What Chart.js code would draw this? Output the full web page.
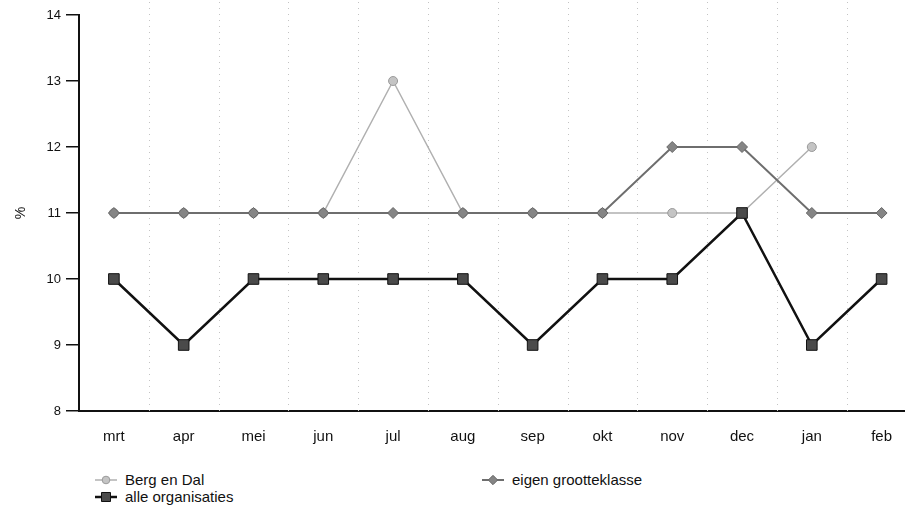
<!DOCTYPE html>
<html lang="nl">
<head>
    <meta charset="UTF-8">
    <title>Maandcijfers</title>
    <style>
        body {
            margin: 0;
            padding: 0;
            background: #fff;
            font-family: Arial, "Liberation Sans", sans-serif;
            width: 905px;
            height: 512px;
            overflow: hidden;
            position: relative;
        }
        #chart {
            position: absolute;
            left: 0;
            top: 0;
        }
        .legend-item {
            position: absolute;
            font-size: 15px;
            line-height: 17px;
            color: #111;
            display: flex;
            align-items: center;
            white-space: nowrap;
        }
        .legend-item canvas {
            margin-right: 7px;
        }
    </style>
</head>
<body>
    <canvas id="chart" width="925" height="450"></canvas>
    <div class="legend-item" style="left:94px; top:471px;"><canvas id="lg0" width="24" height="14"></canvas>Berg en Dal</div>
    <div class="legend-item" style="left:481px; top:471px;"><canvas id="lg1" width="24" height="14"></canvas>eigen grootteklasse</div>
    <div class="legend-item" style="left:94px; top:488px;"><canvas id="lg2" width="24" height="14"></canvas>alle organisaties</div>

    <script src="https://cdn.jsdelivr.net/npm/chart.js"></script>
    <script>
        const months = ['mrt', 'apr', 'mei', 'jun', 'jul', 'aug', 'sep', 'okt', 'nov', 'dec', 'jan', 'feb'];
        const bergEnDal = [11, 11, 11, 11, 13, 11, 11, 11, 11, 11, 12, null];
        const eigenGrootteklasse = [11, 11, 11, 11, 11, 11, 11, 11, 12, 12, 11, 11];
        const alleOrganisaties = [10, 9, 10, 10, 10, 10, 9, 10, 10, 11, 9, 10];
        const yTicks = [8, 9, 10, 11, 12, 13, 14];

        const styles = [
            { label: 'Berg en Dal', line: '#b0b0b0', fill: '#c4c4c4', border: '#9a9a9a', shape: 'circle', r: 4.5, w: 1.5 },
            { label: 'eigen grootteklasse', line: '#6e6e6e', fill: '#858585', border: '#666', shape: 'rectRot', r: 5.5, w: 2 },
            { label: 'alle organisaties', line: '#111', fill: '#4a4a4a', border: '#111', shape: 'rect', r: 7.5, w: 2.5 }
        ];
        const series = [bergEnDal, eigenGrootteklasse, alleOrganisaties];
        const order = [2, 1, 0];
        const font = 'Arial, "Liberation Sans", sans-serif';

        const ctx = document.getElementById('chart').getContext('2d');
        new Chart(ctx, {
            type: 'line',
            data: {
                labels: months,
                datasets: series.map((data, i) => ({
                    label: styles[i].label,
                    data: data,
                    order: order[i],
                    borderColor: styles[i].line,
                    borderWidth: styles[i].w,
                    pointStyle: styles[i].shape,
                    pointRadius: styles[i].r,
                    pointBackgroundColor: styles[i].fill,
                    pointBorderColor: styles[i].border,
                    pointBorderWidth: 1,
                    tension: 0
                }))
            },
            options: {
                responsive: false,
                animation: false,
                layout: { padding: { top: 15, left: 0, right: 0, bottom: 0 } },
                plugins: {
                    legend: { display: false },
                    tooltip: { enabled: false }
                },
                scales: {
                    x: {
                        offset: true,
                        grid: { display: false, drawTicks: false },
                        border: { color: '#111', width: 2 },
                        ticks: {
                            color: '#111',
                            padding: 17,
                            font: { family: font, size: 15 }
                        },
                        afterFit: scale => { scale.height = 39; }
                    },
                    y: {
                        min: 8,
                        max: 14,
                        afterBuildTicks: scale => { scale.ticks = yTicks.map(v => ({ value: v })); },
                        grid: {
                            drawOnChartArea: false,
                            color: '#111',
                            lineWidth: 1.5,
                            tickLength: 13
                        },
                        border: { color: '#111', width: 2 },
                        ticks: {
                            color: '#111',
                            padding: 5,
                            font: { family: font, size: 13 }
                        },
                        title: {
                            display: true,
                            text: '%',
                            color: '#111',
                            padding: { top: 13, bottom: 0 },
                            font: { family: font, size: 14 }
                        },
                        afterFit: scale => { scale.width = 79; }
                    }
                }
            },
            plugins: [{
                id: 'dottedGrid',
                beforeDatasetsDraw(chart) {
                    // faint dotted separators between months
                    const c = chart.ctx;
                    const x = chart.scales.x;
                    const area = chart.chartArea;
                    c.save();
                    c.strokeStyle = '#c4c4c4';
                    c.lineWidth = 1;
                    c.setLineDash([1, 5]);
                    for (let i = 1; i < months.length; i++) {
                        const px = Math.round((x.getPixelForTick(i - 1) + x.getPixelForTick(i)) / 2) + 0.5;
                        c.beginPath();
                        c.moveTo(px, 2);
                        c.lineTo(px, area.bottom);
                        c.stroke();
                    }
                    c.restore();
                }
            }]
        });

        // legend markers
        styles.forEach((s, i) => {
            const c = document.getElementById('lg' + i).getContext('2d');
            const r = s.r * 0.85;
            c.strokeStyle = s.line;
            c.lineWidth = s.w;
            c.beginPath();
            c.moveTo(1, 7);
            c.lineTo(23, 7);
            c.stroke();
            c.fillStyle = s.fill;
            c.strokeStyle = s.border;
            c.lineWidth = 1;
            c.beginPath();
            if (s.shape === 'circle') {
                c.arc(12, 7, r, 0, Math.PI * 2);
            } else if (s.shape === 'rectRot') {
                c.moveTo(12, 7 - r); c.lineTo(12 + r, 7); c.lineTo(12, 7 + r); c.lineTo(12 - r, 7); c.closePath();
            } else {
                const h = r * Math.SQRT1_2;
                c.rect(12 - h, 7 - h, 2 * h, 2 * h);
            }
            c.fill();
            c.stroke();
        });
    </script>
</body>
</html>
